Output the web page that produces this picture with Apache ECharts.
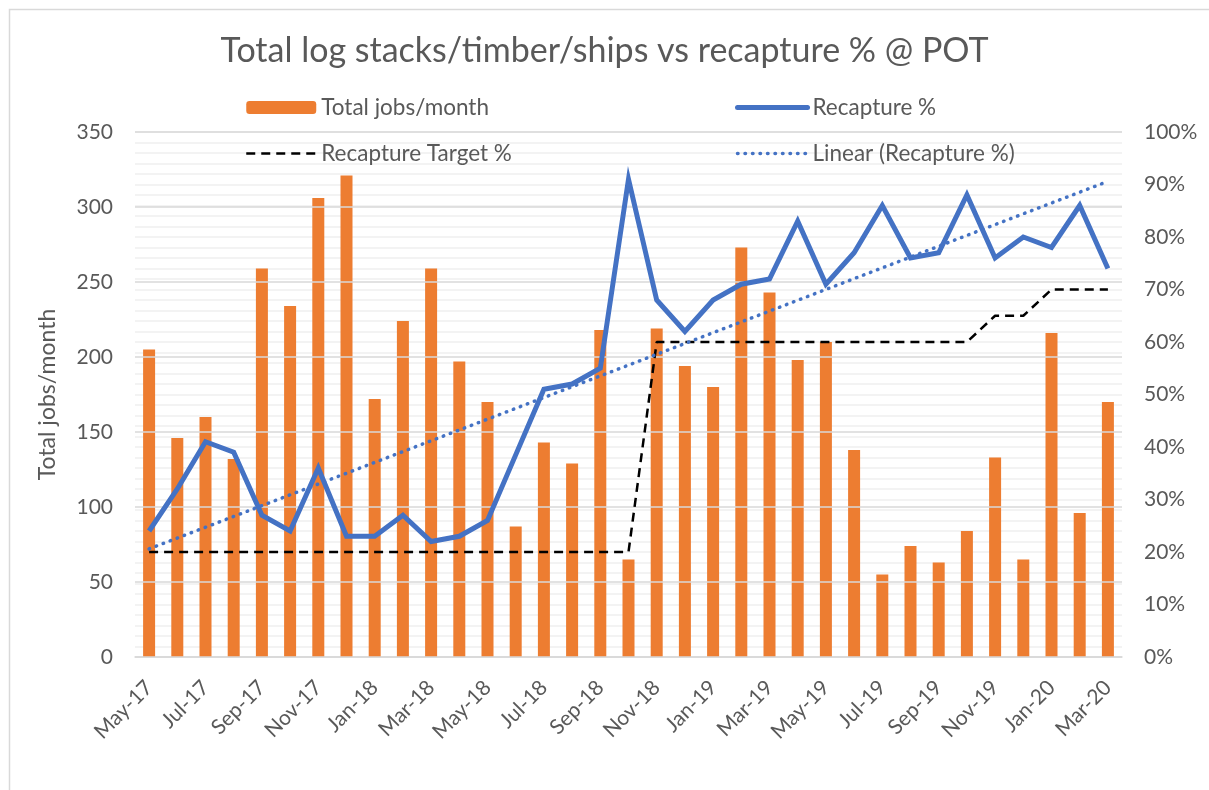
<!DOCTYPE html>
<html>
<head>
<meta charset="utf-8">
<script src="https://cdn.jsdelivr.net/npm/echarts@6/dist/echarts.min.js"></script>
<style>
html,body{margin:0;padding:0;background:#fff;}
#chart{width:1209px;height:790px;}
</style>
</head>
<body>
<div id="chart"></div>
<script>
var months = ['May-17','Jun-17','Jul-17','Aug-17','Sep-17','Oct-17','Nov-17','Dec-17',
  'Jan-18','Feb-18','Mar-18','Apr-18','May-18','Jun-18','Jul-18','Aug-18','Sep-18','Oct-18','Nov-18','Dec-18',
  'Jan-19','Feb-19','Mar-19','Apr-19','May-19','Jun-19','Jul-19','Aug-19','Sep-19','Oct-19','Nov-19','Dec-19',
  'Jan-20','Feb-20','Mar-20'];
var totalJobs = [205,146,160,132,259,234,306,321,
  172,224,259,197,170,87,143,129,218,65,219,194,
  180,273,243,198,210,138,55,74,63,84,133,65,
  216,96,170];
var recapturePct = [24,32,41,39,27,24,36,23,
  23,27,22,23,26,38.5,51,52,55,91,68,62,
  68,71,72,83,71,77,86,76,77,88,76,80,
  78,86,74];
var targetPct = [20,20,20,20,20,20,20,20,
  20,20,20,20,20,20,20,20,20,20,60,60,
  60,60,60,60,60,60,60,60,60,60,65,65,
  70,70,70];
var trendEnds = [20.6, 90.6];
var leftTicks = {min:0, max:350, step:50};
var rightTicks = {min:0, max:100, step:10};

var trendData = months.map(function(m, i){
  if (i === 0) return trendEnds[0];
  if (i === months.length - 1) return trendEnds[1];
  return null;
});

var FONT = 'Lato';
var TXT = '#595959';
var legendText = {fontFamily:FONT, fontSize:22.5, color:TXT, lineHeight:22};

var chart = echarts.init(document.getElementById('chart'), null, {renderer:'canvas'});
chart.setOption({
  backgroundColor:'#fff',
  animation:false,
  textStyle:{fontFamily:FONT},
  title:{
    text:'Total log stacks/timber/ships vs recapture % @ POT',
    left:'center', top:29,
    textStyle:{fontFamily:FONT, fontSize:34, fontWeight:'normal', color:TXT}
  },
  graphic:[{
    type:'rect', left:7, top:7, silent:true,
    shape:{x:0,y:0,width:1240,height:820},
    style:{fill:null, stroke:'#d9d9d9', lineWidth:1.5}
  }],
  legend:[{
    data:[
      {name:'Total jobs/month'},
      {name:'Recapture Target %', itemStyle:{opacity:0}, lineStyle:{width:2.5, type:[9,6], color:'#000'}}
    ],
    orient:'vertical', left:245, top:96, padding:0,
    itemWidth:70, itemHeight:13, itemGap:23, itemTextGap:8,
    textStyle:legendText
  },{
    data:[
      {name:'Recapture %', itemStyle:{opacity:0}, lineStyle:{width:5, color:'#4472C4', cap:'round'}},
      {name:'Linear (Recapture %)', itemStyle:{opacity:0}, lineStyle:{width:3.5, type:[0.5,7], cap:'round', color:'#4472C4'}}
    ],
    orient:'vertical', left:735, top:96, padding:0,
    itemWidth:70, itemHeight:13, itemGap:23, itemTextGap:8,
    textStyle:legendText
  }],
  grid:{left:135, right:87, top:132, bottom:133, containLabel:false},
  xAxis:{
    type:'category', data:months, boundaryGap:true,
    axisLine:{show:true, lineStyle:{color:'#d9d9d9', width:1.5}},
    axisTick:{show:false},
    axisLabel:{interval:1, rotate:45, margin:27, fontFamily:FONT, fontSize:21, color:TXT}
  },
  yAxis:[{
    type:'value', min:leftTicks.min, max:leftTicks.max, interval:leftTicks.step,
    name:'Total jobs/month', nameLocation:'middle', nameGap:76,
    nameTextStyle:{fontFamily:FONT, fontSize:23, color:TXT},
    axisLine:{show:false}, axisTick:{show:false},
    axisLabel:{margin:22, fontFamily:FONT, fontSize:21, color:TXT},
    splitLine:{show:true, lineStyle:{color:'#d9d9d9', width:1.5}},
    z:3
  },{
    type:'value', min:rightTicks.min, max:rightTicks.max, interval:rightTicks.step,
    position:'right',
    axisLine:{show:false}, axisTick:{show:false},
    axisLabel:{margin:22, formatter:'{value}%', fontFamily:FONT, fontSize:21, color:TXT},
    splitLine:{show:true, lineStyle:{color:'#efefef', width:1.5}},
    minorTick:{show:false, splitNumber:5},
    minorSplitLine:{show:true, lineStyle:{color:'#f0f0f0', width:1.5}}
  }],
  series:[{
    name:'Total jobs/month', type:'bar', data:totalJobs, yAxisIndex:0,
    barWidth:12, itemStyle:{color:'#ED7D31'}, z:2
  },{
    name:'Recapture Target %', type:'line', data:targetPct, yAxisIndex:1,
    symbol:'none', showSymbol:false,
    lineStyle:{color:'#000', width:2.5, type:[9,6]}, itemStyle:{color:'#000'}, z:3
  },{
    name:'Recapture %', type:'line', data:recapturePct, yAxisIndex:1,
    symbol:'none', showSymbol:false,
    lineStyle:{color:'#4472C4', width:5, join:'miter'}, itemStyle:{color:'#4472C4'}, z:5
  },{
    name:'Linear (Recapture %)', type:'line', data:trendData, yAxisIndex:1,
    connectNulls:true, symbol:'none', showSymbol:false,
    lineStyle:{color:'#4472C4', width:3.5, type:[0.5,7], cap:'round'}, itemStyle:{color:'#4472C4'}, z:4
  }]
});
</script>
</body>
</html>
